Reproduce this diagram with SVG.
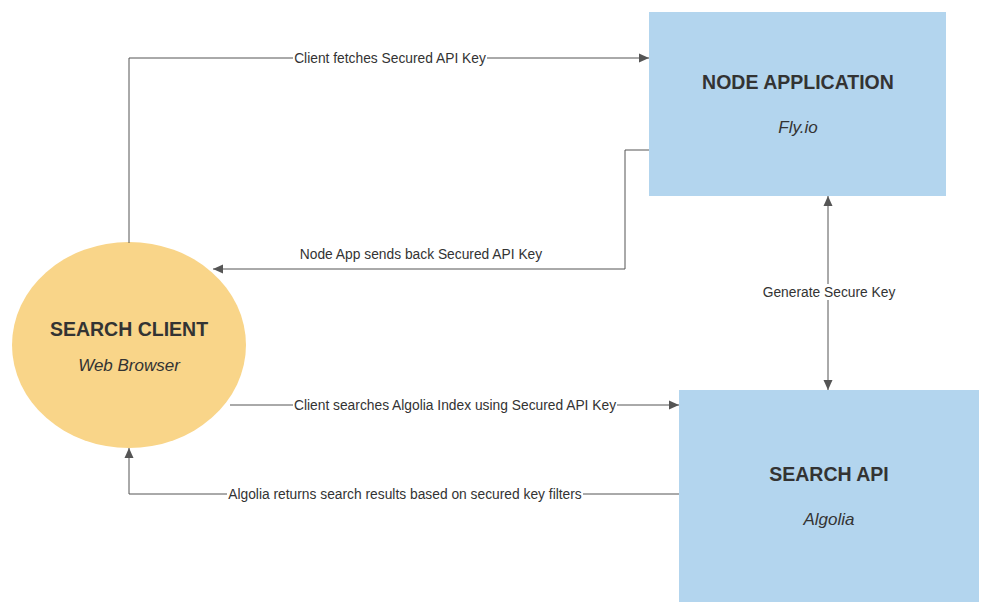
<svg xmlns="http://www.w3.org/2000/svg" width="992" height="614" viewBox="0 0 992 614">
<style>
.box{fill:#b3d5ee}
.client{fill:#f9d589}
.title{font-family:"Liberation Sans",Arial,sans-serif;font-weight:bold;font-size:19.5px;fill:#333;text-anchor:middle}
.sub{font-family:"Liberation Sans",Arial,sans-serif;font-style:italic;font-size:17px;fill:#333;text-anchor:middle}
.edge{fill:none;stroke:#555;stroke-width:1}
.lbl{font-family:"Liberation Sans",Arial,sans-serif;font-size:13.8px;fill:#333;text-anchor:middle}
.lblbg{fill:#fff}
</style>
<defs>
<marker id="arr" viewBox="0 0 10 10" refX="10" refY="5" markerWidth="10" markerHeight="10" markerUnits="userSpaceOnUse" orient="auto-start-reverse">
<path d="M0,0.5 L10,5 L0,9.5 z" fill="#555"/>
</marker>
</defs>
<rect width="992" height="614" fill="#fff"/>
<g id="node-application">
<rect class="box" x="649" y="12" width="297" height="184"/>
<text class="title" x="798" y="89">NODE APPLICATION</text>
<text class="sub" x="798" y="133">Fly.io</text>
</g>
<g id="search-api">
<rect class="box" x="679" y="390" width="300" height="212"/>
<text class="title" x="829" y="481">SEARCH API</text>
<text class="sub" x="829" y="525">Algolia</text>
</g>
<g id="search-client">
<ellipse class="client" cx="129" cy="345" rx="117" ry="103"/>
<text class="title" x="129" y="336">SEARCH CLIENT</text>
<text class="sub" x="129" y="371">Web Browser</text>
</g>
<g id="connectors">
<path class="edge" d="M129,243 V58 H649" marker-end="url(#arr)"/>
<rect class="lblbg" x="293" y="50" width="194" height="16"/>
<text class="lbl" x="390" y="63">Client fetches Secured API Key</text>
<path class="edge" d="M649,150 H625 V269 H213" marker-end="url(#arr)"/>
<text class="lbl" x="421" y="259">Node App sends back Secured API Key</text>
<path class="edge" d="M828,196 V390" marker-start="url(#arr)" marker-end="url(#arr)"/>
<rect class="lblbg" x="762" y="284" width="134" height="16"/>
<text class="lbl" x="829" y="297">Generate Secure Key</text>
<path class="edge" d="M230,405 H679" marker-end="url(#arr)"/>
<rect class="lblbg" x="293" y="397" width="324" height="16"/>
<text class="lbl" x="455" y="410">Client searches Algolia Index using Secured API Key</text>
<path class="edge" d="M679,494 H129 V448" marker-end="url(#arr)"/>
<rect class="lblbg" x="227" y="486" width="356" height="16"/>
<text class="lbl" x="405" y="499">Algolia returns search results based on secured key filters</text>
</g>
</svg>
